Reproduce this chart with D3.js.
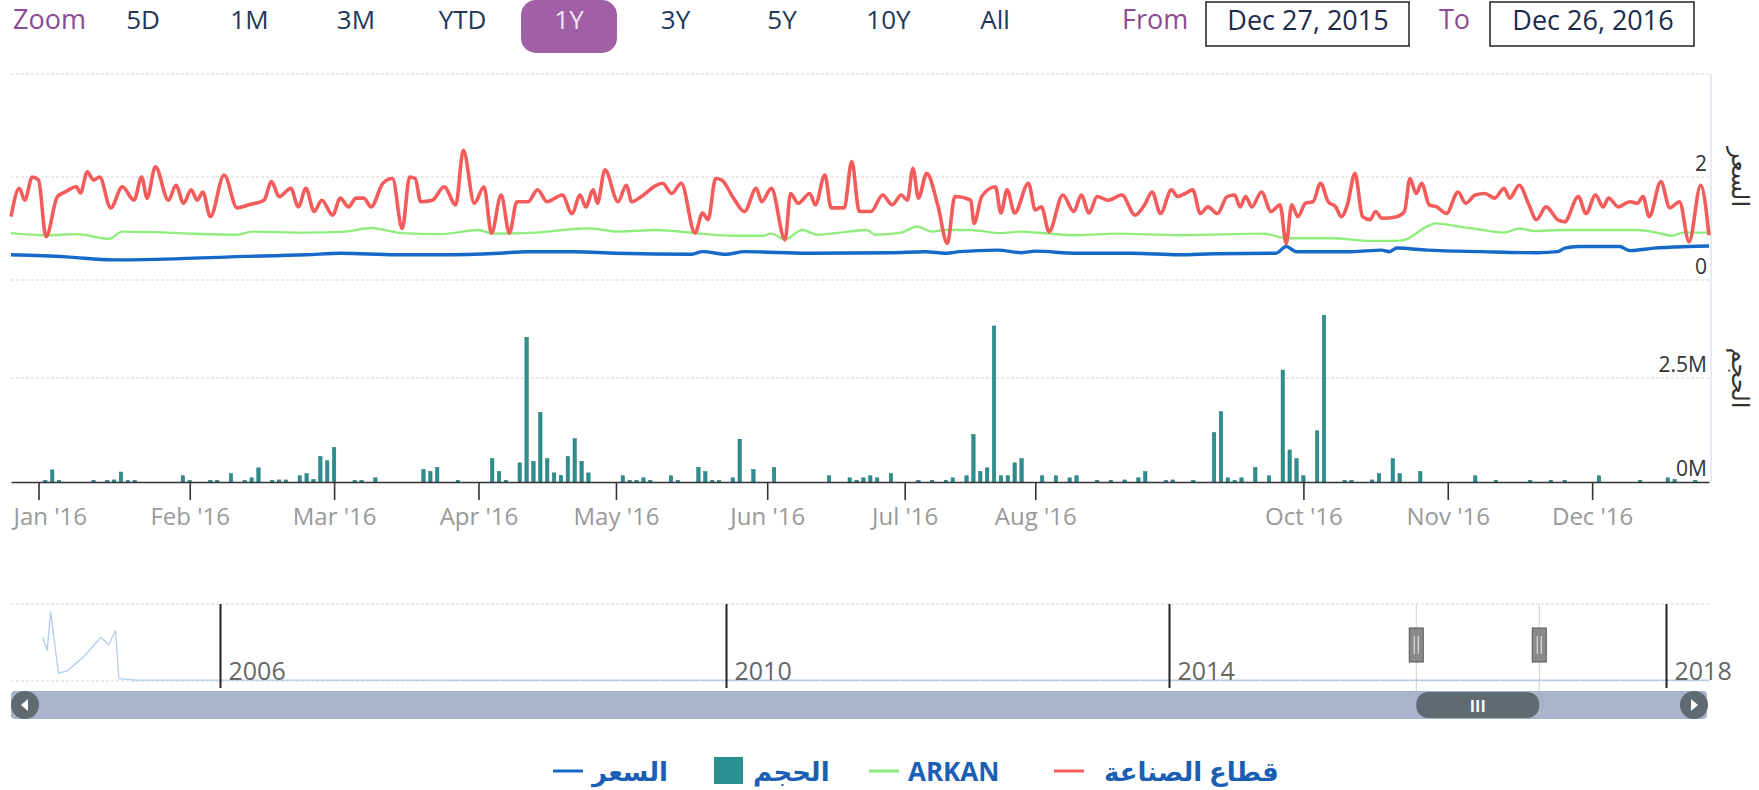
<!DOCTYPE html>
<html><head><meta charset="utf-8">
<script src="https://cdn.jsdelivr.net/npm/d3@7"></script>
<style>
body{margin:0;background:#fff;}
svg{display:block;font-family:"Open Sans","DejaVu Sans",sans-serif;}
</style></head><body>
<svg id="c" width="1759" height="790"></svg>
<script>
// ---------------- DATA ----------------
const zoomButtons = ["5D","1M","3M","YTD","1Y","3Y","5Y","10Y","All"];
const selectedButton = "1Y";
const fromDate = "Dec 27, 2015";
const toDate = "Dec 26, 2016";

const seriesNames = ["السعر","الحجم","ARKAN","قطاع الصناعة"];
const priceAxisTitle = "السعر";
const volumeAxisTitle = "الحجم";

// x axis: trading-day index (ordinal axis)
const monthLabels = ["Jan '16","Feb '16","Mar '16","Apr '16","May '16","Jun '16","Jul '16","Aug '16","Oct '16","Nov '16","Dec '16"];
const monthTickIdx = [4,26,47,68,88,110,130,149,188,209,230];

const priceTicks = [0,2];
const volumeTicks = [0,2.5];

// sector index (red)
const sectorIdx = [0,1.2,2,3.1,4,5.1,6.75,7.9,9.5,10.1,11.1,12,12.9,14.5,16.2,17.9,19,19.8,21,22.9,24,25.1,26.2,27.1,27.9,29,31,32.9,34.6,36.8,37.9,39,40.7,41.8,42.9,44.1,45.2,46.8,47.9,49.1,50.2,51.3,52.4,54.1,55.5,56.9,58,58.8,59.6,61.3,63,64.7,65.8,67.4,68.8,69.9,71.3,72.5,73.6,75.2,76.6,78,80.2,81.6,
 82.8,83.6,84.7,85.3,86.4,88.3,89.5,90.3,91.7,93.9,94.8,96.1,97.5,99.5,100.6,101.4,102.5,103.4,105.1,106.7,108.4,109.2,110.6,112.6,113.4,114.5,116.2,117,118.4,119.3,121.2,122.3,123.4,125.1,126.8,128.2,129.5,130.4,131.2,132,133.2,134.8,136.2,137.3,139.6,140.1,141.2,143.2,144,144.9,146,148,149,149.9,151,153,154.6,155.7,156.8,158,159.6,161.6,163.5,164.9,166,
 167.2,168.8,169.7,170.8,171.9,173,174.1,175.5,176.9,178,178.8,179.6,180.5,181.9,183.3,184.6,185.5,186.3,187.2,188.3,189.4,190.5,191.6,192.7,193.5,194.4,195.5,196.6,197.7,198.5,199.4,201.6,202.7,203.5,204.4,205.2,206.3,207.4,208.8,210.5,211.6,213,214.4,215.8,217.2,218,219.4,220.8,221.9,223.3,225,226,228,229.1,230.5,231.6,232.4,233.8,235.5,236.6,237.4,238.3,240,241.3,242.7,244.1,245.8,247];
const sectorVal = [1.23,1.78,1.55,2.0,1.94,0.84,1.62,1.71,1.81,1.69,2.10,1.94,2.0,1.40,1.81,1.55,2.0,1.59,2.20,1.55,1.84,1.49,1.75,1.55,1.71,1.23,2.04,1.40,1.46,1.55,1.91,1.62,1.78,1.42,1.78,1.33,1.55,1.26,1.59,1.42,1.59,1.59,1.42,1.88,1.97,1.0,2.0,1.97,1.52,1.55,1.81,1.46,2.52,1.49,1.81,0.91,1.65,0.91,1.52,1.52,1.75,1.52,1.65,1.29,
 1.65,1.42,1.75,1.49,2.14,1.52,1.84,1.52,1.62,1.84,1.88,1.68,1.88,0.91,1.30,1.17,1.97,1.94,1.59,1.33,1.78,1.52,1.78,0.78,1.68,1.49,1.68,1.46,2.04,1.40,1.40,2.30,1.33,1.33,1.65,1.46,1.65,1.55,2.17,1.59,2.07,1.46,0.71,1.62,1.55,1.10,1.62,1.81,1.30,1.75,1.30,1.88,1.36,1.42,0.94,1.65,1.33,1.65,1.30,1.62,1.55,1.65,1.26,1.46,1.71,
 1.29,1.75,1.62,1.68,1.75,1.29,1.42,1.29,1.62,1.65,1.42,1.62,1.42,1.71,1.33,1.46,0.71,1.46,1.23,1.49,1.52,1.88,1.52,1.42,1.23,1.46,2.07,1.23,1.17,1.33,1.20,1.23,1.33,1.97,1.68,1.88,1.46,1.42,1.29,1.71,1.49,1.65,1.68,1.59,1.78,1.59,1.84,1.46,1.17,1.42,1.17,1.13,1.62,1.29,1.65,1.42,1.59,1.42,1.52,1.49,1.62,1.23,1.91,1.40,1.52,0.74,1.84,0.87];

// ARKAN (green)
const arkanIdx = [0,5.1,9.5,14.3,16.2,20.7,26.2,32.9,35.1,42.9,48.5,52.4,56.9,62.4,68,70.2,76.4,83.3,84.4,88.3,93.9,99.5,105.1,109.5,110.6,112.6,115.1,117.3,121.8,124.5,125.7,129.5,131.8,134,135.7,139.6,144,146.8,151,155.2,160.7,170.1,182.2,185.5,192.2,197.7,201.6,202.7,206,207.2,210.5,212.7,217.2,219.4,221.6,225.5,236.6,239.4,241.6,243.3,247];
const arkanVal = [0.91,0.87,0.89,0.80,0.94,0.93,0.90,0.88,0.94,0.92,0.94,1.01,0.91,0.89,0.97,0.90,0.92,1.0,1.0,0.94,0.97,0.91,0.86,0.86,0.90,0.79,0.97,0.88,0.94,0.97,0.88,0.92,1.04,0.94,0.97,0.97,0.91,0.94,0.90,0.87,0.90,0.87,0.90,0.81,0.81,0.76,0.76,0.78,1.04,1.10,1.04,1.0,0.92,1.0,0.95,0.97,0.97,0.92,0.86,0.92,0.92];

// Price (blue)
const priceIdx = [0,8,15,21,32,43,48,56,62,71,75,82,88,99,100.6,104,106.7,116,128,133,136,138,143.5,147,149,155,163,170,175,184,185.5,187,195,199.4,200.5,201.6,206,214,222,225,226,228,234,235.5,239,244,247];
const priceVal = [0.49,0.45,0.39,0.40,0.45,0.49,0.52,0.49,0.49,0.52,0.55,0.55,0.52,0.50,0.55,0.50,0.55,0.52,0.53,0.55,0.52,0.55,0.58,0.53,0.56,0.52,0.52,0.49,0.51,0.52,0.65,0.55,0.55,0.58,0.55,0.62,0.58,0.55,0.53,0.55,0.62,0.65,0.65,0.57,0.62,0.65,0.66];

// Volume (millions)
const volumeIdx = [5,6,7,12,14,15,16,17,18,25,26,29,30,32,34,35,36,38,39,40,42,43,44,45,46,47,50,51,53,60,61,62,65,70,71,72,74,75,76,77,78,79,80,81,82,83,84,89,90,91,92,93,96,97,100,101,102,103,105,106,108,111,119,122,123,124,125,126,128,132,134,136,137,139,140,141,142,143,144,145,146,147,150,152,154,155,158,160,162,164,165,168,169,172,175,176,177,178,179,181,183,185,186,187,188,190,191,194,195,198,199,201,202,205,213,216,221,224,226,231,237,241,242,245];
const volumeVal = [0.04,0.29,0.04,0.04,0.04,0.05,0.24,0.04,0.04,0.15,0.04,0.04,0.04,0.2,0.04,0.1,0.34,0.04,0.05,0.05,0.15,0.2,0.06,0.61,0.51,0.83,0.04,0.04,0.1,0.3,0.25,0.35,0.04,0.56,0.25,0.04,0.46,3.48,0.5,1.67,0.56,0.22,0.16,0.61,1.04,0.5,0.22,0.15,0.04,0.04,0.1,0.04,0.15,0.04,0.35,0.25,0.04,0.04,0.1,1.03,0.3,0.35,0.15,0.1,0.04,0.1,0.15,0.1,0.2,0.04,0.04,0.04,0.1,0.15,1.14,0.25,0.34,3.75,0.15,0.15,0.46,0.56,0.15,0.15,0.1,0.15,0.04,0.04,0.05,0.1,0.25,0.04,0.05,0.04,1.19,1.69,0.1,0.04,0.1,0.35,0.15,2.69,0.77,0.56,0.15,1.23,4.01,0.04,0.04,0.05,0.2,0.56,0.2,0.25,0.15,0.04,0.04,0.04,0.04,0.15,0.04,0.1,0.06,0.04];

// Navigator (full history of price)
const navYearTicks = [2006,2010,2014,2018];
const navYears = [2004.598,2004.634,2004.661,2004.723,2004.794,2004.926,2005.059,2005.121,2005.174,2005.201,2005.325,2008,2012,2016,2018.35];
const navValues = [8.76,6.08,13.9,1.58,2.04,4.94,8.76,7.2,10.1,0.46,0.2,0.15,0.15,0.15,0.15];
const navRange = [2015.99, 2016.98];

// ---------------- STYLE ----------------
const C = {red:"#f45b5b", green:"#90ed7d", blue:"#1668c9", teal:"#2b908f",
  purple:"#8e4a92", btnText:"#22375a", grid:"#d4d4d4"};

const svg = d3.select("#c");
svg.append("rect").attr("width",1759).attr("height",790).attr("fill","#fff");

// ---------------- RANGE SELECTOR ----------------
const rs = svg.append("g");
rs.append("text").attr("x",13).attr("y",29).attr("fill",C.purple)
  .attr("font-size",27).text("Zoom");
zoomButtons.forEach((b,i)=>{
  const cx = 143 + i*106.5;
  if (b===selectedButton){
    rs.append("rect").attr("x",cx-48).attr("y",0).attr("width",96).attr("height",53)
      .attr("rx",15).attr("fill","#a160a6");
  }
  rs.append("text").attr("x",cx).attr("y",29).attr("text-anchor","middle")
    .attr("font-size",26).attr("fill", b===selectedButton?"#f3e6f3":C.btnText).text(b);
});
rs.append("text").attr("x",1122).attr("y",29).attr("fill",C.purple).attr("font-size",27).text("From");
rs.append("rect").attr("x",1206).attr("y",2).attr("width",203).attr("height",44)
  .attr("fill","#fff").attr("stroke","#222").attr("stroke-width",1.5);
rs.append("text").attr("x",1308).attr("y",30).attr("text-anchor","middle").attr("fill","#1c2b4a").attr("font-size",27).text(fromDate);
rs.append("text").attr("x",1439).attr("y",29).attr("fill",C.purple).attr("font-size",27).text("To");
rs.append("rect").attr("x",1490).attr("y",2).attr("width",204).attr("height",44)
  .attr("fill","#fff").attr("stroke","#222").attr("stroke-width",1.5);
rs.append("text").attr("x",1593).attr("y",30).attr("text-anchor","middle").attr("fill","#1c2b4a").attr("font-size",27).text(toDate);

// ---------------- SCALES ----------------
const x = d3.scaleLinear().domain([0,247]).range([11,1709]);
const yP = d3.scaleLinear().domain([0,4]).range([280,74]);
const yV = d3.scaleLinear().domain([0,5]).range([482,274]);

// grid lines
const grid = svg.append("g").attr("stroke",C.grid).attr("stroke-dasharray","3,2");
[0,2,4].forEach(v=>grid.append("line").attr("x1",11).attr("x2",1709).attr("y1",yP(v)).attr("y2",yP(v)));
[2.5].forEach(v=>grid.append("line").attr("x1",11).attr("x2",1709).attr("y1",yV(v)).attr("y2",yV(v)));

// right axis line
svg.append("line").attr("x1",1711).attr("x2",1711).attr("y1",74).attr("y2",482).attr("stroke","#ccd6eb");

// y labels
priceTicks.forEach(v=>svg.append("text").attr("x",1707).attr("y",yP(v)-6).attr("text-anchor","end")
  .attr("font-size",21).attr("fill","#333").text(v));
volumeTicks.forEach(v=>svg.append("text").attr("x",1707).attr("y",yV(v)-6).attr("text-anchor","end")
  .attr("font-size",21).attr("fill","#333").text(v+"M"));
svg.append("text").attr("transform","translate(1732,177) rotate(90)").attr("text-anchor","middle")
  .attr("font-size",24).attr("fill","#333").text(priceAxisTitle);
svg.append("text").attr("transform","translate(1732,378) rotate(90)").attr("text-anchor","middle")
  .attr("font-size",24).attr("fill","#333").text(volumeAxisTitle);

// volume bars
svg.append("g").selectAll("rect").data(volumeIdx).join("rect")
  .attr("x",(d)=>x(d)-1.7).attr("width",3.4)
  .attr("y",(d,i)=>yV(volumeVal[i])).attr("height",(d,i)=>yV(0)-yV(volumeVal[i]))
  .attr("fill",C.teal).attr("stroke","#1f6f6e").attr("stroke-width",0.5);

// x axis
const xAxis = d3.axisBottom(x).tickValues(monthTickIdx).tickFormat((d,i)=>monthLabels[i])
  .tickSize(18).tickSizeOuter(0).tickPadding(8);
const gx = svg.append("g").attr("transform","translate(0,482)").call(xAxis);
gx.select(".domain").attr("stroke","#333").attr("stroke-width",1.6);
gx.selectAll(".tick line").attr("stroke","#333").attr("stroke-width",1.6);
gx.selectAll(".tick text").attr("font-size",24).attr("fill","#999").attr("font-family","Open Sans");
gx.selectAll(".tick text").each(function(){
  const t=d3.select(this); const bb=this.getBBox();
  const tickX = x(+d3.select(this.parentNode).datum());
  if (tickX+bb.x < 13){ t.attr("text-anchor","start").attr("x",13-tickX); }
});

// lines
const line = (idx,val,yS,curve)=>d3.line().x((d,i)=>x(idx[i])).y((d,i)=>yS(val[i])).curve(curve)(idx);
svg.append("path").attr("d",line(priceIdx,priceVal,yP,d3.curveMonotoneX)).attr("fill","none").attr("stroke",C.blue).attr("stroke-width",3.4);
svg.append("path").attr("d",line(arkanIdx,arkanVal,yP,d3.curveMonotoneX)).attr("fill","none").attr("stroke",C.green).attr("stroke-width",2.4);
svg.append("path").attr("d",line(sectorIdx,sectorVal,yP,d3.curveMonotoneX)).attr("fill","none").attr("stroke",C.red).attr("stroke-width",3.6).attr("stroke-linejoin","round");

// ---------------- NAVIGATOR ----------------
const xn = d3.scaleLinear().domain(navYearTicks).range([220,726,1169,1666]);
const yn = d3.scaleLinear().domain([0,15]).range([681,606]);
const ng = svg.append("g");
ng.append("line").attr("x1",11).attr("x2",1709).attr("y1",604).attr("y2",604).attr("stroke",C.grid).attr("stroke-dasharray","3,2");
ng.append("line").attr("x1",11).attr("x2",1709).attr("y1",681).attr("y2",681).attr("stroke",C.grid).attr("stroke-dasharray","3,2");
ng.append("path").attr("d",d3.line().x((d,i)=>xn(navYears[i])).y((d,i)=>yn(navValues[i]))(navYears))
  .attr("fill","none").attr("stroke","#b3cdee").attr("stroke-width",1.3);
const navAxis = d3.axisBottom(xn).tickValues(navYearTicks).tickFormat(d3.format("d")).tickSize(0);
const gn = ng.append("g").attr("transform","translate(0,604)").call(navAxis);
gn.select(".domain").remove();
gn.selectAll(".tick line").attr("y2",84).attr("stroke","#222").attr("stroke-width",2);
gn.selectAll(".tick text").attr("text-anchor","start").attr("x",8).attr("y",0).attr("dy",76)
  .attr("font-size",25).attr("fill","#666").attr("font-family","Open Sans");

// scrollbar
const sb = svg.append("g");
sb.append("rect").attr("x",11).attr("y",691).attr("width",1696).attr("height",28).attr("rx",4).attr("fill","#a9b3c9");
const h0 = xn(navRange[0]), h1 = xn(navRange[1]);
sb.append("rect").attr("x",h0).attr("y",692).attr("width",h1-h0).attr("height",26).attr("rx",12).attr("fill","#5f6a73");
sb.append("text").attr("x",(h0+h1)/2).attr("y",712).attr("text-anchor","middle").attr("font-size",16).attr("fill","#fff").attr("font-weight","bold").text("III");
[[25,-1],[1694,1]].forEach(([cx,dir])=>{
  sb.append("circle").attr("cx",cx).attr("cy",705).attr("r",14).attr("fill","#5f6a73");
  sb.append("path").attr("d",`M${cx+4*dir},705 L${cx-3*dir},699 L${cx-3*dir},711 Z`).attr("fill","#fff");
});
// handles
[h0,h1].forEach(hx=>{
  ng.append("line").attr("x1",hx).attr("x2",hx).attr("y1",604).attr("y2",719).attr("stroke","#ccc").attr("stroke-width",1);
  ng.append("rect").attr("x",hx-7).attr("y",628).attr("width",14).attr("height",34).attr("fill","#8a8a8a").attr("stroke","#555");
  ng.append("line").attr("x1",hx-2).attr("x2",hx-2).attr("y1",636).attr("y2",654).attr("stroke","#eee");
  ng.append("line").attr("x1",hx+2).attr("x2",hx+2).attr("y1",636).attr("y2",654).attr("stroke","#eee");
});

// ---------------- LEGEND ----------------
const lg = svg.append("g").attr("font-size",26).attr("font-weight","bold").attr("fill","#1a5fb4");
const legendItems = [
  {name:seriesNames[0], type:"line", color:C.blue, sx:553, tx:592},
  {name:seriesNames[1], type:"rect", color:C.teal, sx:714, tx:753},
  {name:seriesNames[2], type:"line", color:C.green, sx:869, tx:908},
  {name:seriesNames[3], type:"line", color:C.red, sx:1054, tx:1104}
];
legendItems.forEach(it=>{
  if (it.type==="line") lg.append("line").attr("x1",it.sx).attr("x2",it.sx+30).attr("y1",771).attr("y2",771).attr("stroke",it.color).attr("stroke-width",3);
  else lg.append("rect").attr("x",it.sx).attr("y",757).attr("width",29).attr("height",27).attr("fill",it.color);
  lg.append("text").attr("x",it.tx).attr("y",781).text(it.name);
});
</script></body></html>
